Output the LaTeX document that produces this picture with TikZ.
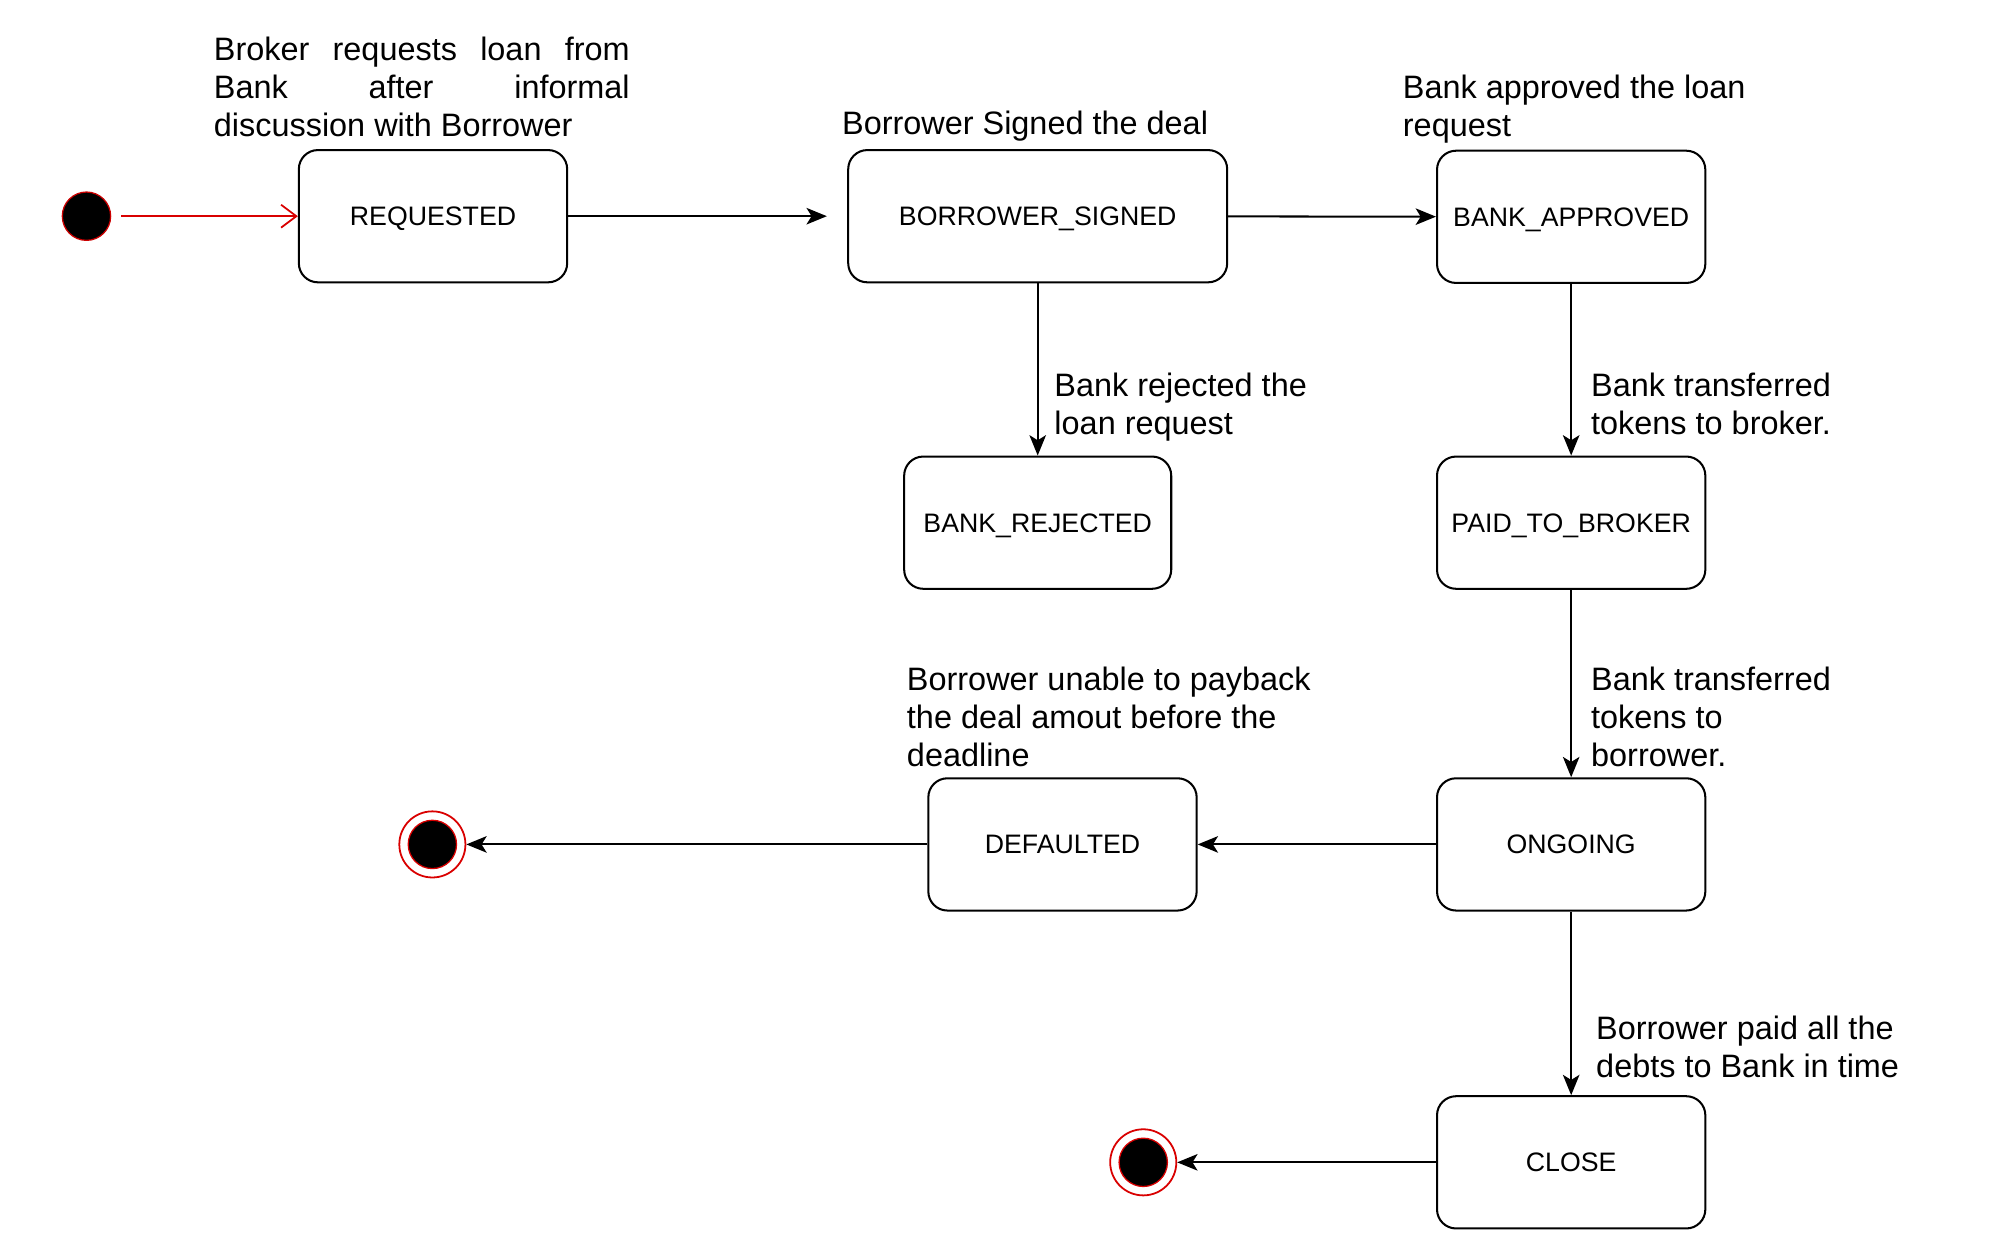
\documentclass[tikz,border=0pt]{standalone}
\usepackage{fontspec}
\setmainfont{Liberation Sans}
\usetikzlibrary{arrows.meta}
\begin{document}
\begin{tikzpicture}[x=1pt,y=-1pt,
  state/.style={draw,rounded corners=15pt,line width=1.6pt,minimum height=104pt,
    font=\fontsize{21}{24}\selectfont,inner sep=0pt,text height=15pt,text depth=0pt},
  lbl/.style={font=\fontsize{25.5}{30}\selectfont,align=left,inner sep=0pt,anchor=north west},
  arr/.style={line width=1.6pt,-{Stealth[length=16pt,width=13pt,inset=4pt]}},
  initst/.style={circle,fill=black,draw=red!80!black,line width=1pt,minimum size=38pt,inner sep=0pt},
  finalst/.style={circle,draw=red!85!black,line width=1.4pt,minimum size=52pt,inner sep=0pt,
    path picture={\fill[black] (path picture bounding box.center) circle (19pt);
      \draw[red!85!black,line width=1pt] (path picture bounding box.center) circle (19pt);}}]
\useasboundingbox (0,0) rectangle (1568,986);

% states
\node[initst] (init) at (68,170) {};
\node[state,minimum width=211pt] (req) at (340.5,170) {REQUESTED};
\node[state,minimum width=298pt] (bs) at (816,170) {BORROWER\_SIGNED};
\node[state,minimum width=211pt] (ba) at (1235.5,170.5) {BANK\_APPROVED};
\node[state,minimum width=210pt] (br) at (816,411) {BANK\_REJECTED};
\node[state,minimum width=211pt] (ptb) at (1235.5,411) {PAID\_TO\_BROKER};
\node[state,minimum width=211pt] (def) at (835.5,664) {DEFAULTED};
\node[state,minimum width=211pt] (ong) at (1235.5,664) {ONGOING};
\node[state,minimum width=211pt] (cls) at (1235.5,914) {CLOSE};
\node[finalst] (end1) at (340,664) {};
\node[finalst] (end2) at (899,914) {};

% labels
\node[lbl] (l1) at (168,29) {\makebox[327pt][s]{Broker requests loan from}\\\makebox[327pt][s]{Bank after informal}\\discussion with Borrower};
\node[lbl] (l2) at (662,87) {Borrower Signed the deal};
\node[lbl] (l3) at (1103,59) {Bank approved the loan\\request};
\node[lbl] (l4) at (829,293) {Bank rejected the\\loan request};
\node[lbl] (l5) at (1251,293) {Bank transferred\\tokens to broker.};
\node[lbl] (l6) at (713,524) {Borrower unable to payback\\the deal amout before the\\deadline};
\node[lbl] (l7) at (1251,524) {Bank transferred\\tokens to\\borrower.};
\node[lbl] (l8) at (1255,799) {Borrower paid all the\\debts to Bank in time};

% connectors
\draw[red!85!black,line width=1.4pt,-{Straight Barb[length=12pt,width=18pt,line width=1.4pt]},shorten <=8pt] (init) -- (req);
\draw[arr,shorten >=16pt] (req) -- (bs);
\draw[arr] (bs) -- (ba);
\draw[arr] (bs) -- (br);
\draw[arr] (ba) -- (ptb);
\draw[arr] (ptb) -- (ong);
\draw[arr] (ong) -- (def);
\draw[arr] (def) -- (end1);
\draw[arr] (ong) -- (cls);
\draw[arr] (cls) -- (end2);
\end{tikzpicture}
\end{document}
